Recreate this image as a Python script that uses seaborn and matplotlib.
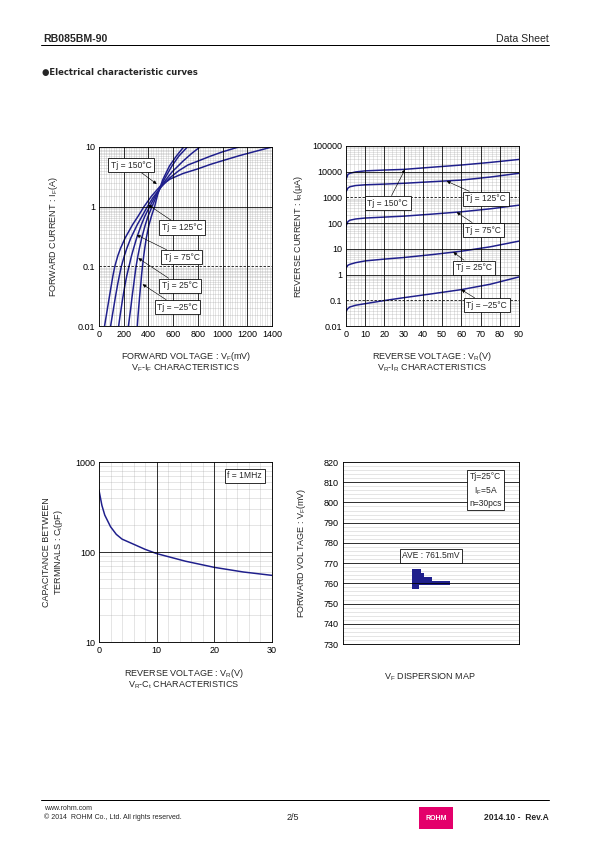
import numpy as np
import pandas as pd
import seaborn as sns
import matplotlib
matplotlib.use('Agg')
import matplotlib.pyplot as plt
from matplotlib.ticker import FixedLocator, FixedFormatter, MultipleLocator, NullFormatter
from matplotlib.patches import Rectangle

# ---- VF-IF data (mV, A) ----
vfif_labels = ['Tj = 150°C', 'Tj = 125°C', 'Tj = 75°C', 'Tj = 25°C', 'Tj = –25°C']
vf_150 = [45, 59, 69, 83, 101, 113, 128, 152, 174, 212, 272, 318, 364, 425, 495, 575, 680, 800, 900, 1000, 1140, 1270, 1400]
if_150 = [0.01, 0.015, 0.02, 0.03, 0.05, 0.07, 0.1, 0.15, 0.2, 0.3, 0.5, 0.7, 1.0, 1.5, 2.2, 2.9, 3.6, 4.3, 5.1, 5.9, 7.2, 8.5, 10]
vf_125 = [94, 108, 118, 132, 151, 165, 181, 205, 225, 258, 310, 350, 391, 435, 500, 570, 645, 720, 800, 900, 1000, 1130]
if_125 = [0.01, 0.015, 0.02, 0.03, 0.05, 0.07, 0.1, 0.15, 0.2, 0.3, 0.5, 0.7, 1.0, 1.4, 2.1, 3.0, 4.0, 5.0, 5.8, 7.0, 8.3, 10]
vf_75 = [159, 171, 180, 193, 211, 225, 243, 263, 280, 305, 343, 372, 410, 455, 515, 590, 680, 750, 817]
if_75 = [0.01, 0.015, 0.02, 0.03, 0.05, 0.07, 0.1, 0.15, 0.2, 0.3, 0.5, 0.7, 1.0, 1.5, 2.4, 3.8, 5.8, 7.8, 10]
vf_25 = [238, 249, 257, 267, 281, 290, 300, 315, 327, 346, 375, 398, 429, 470, 525, 590, 645, 715]
if_25 = [0.01, 0.015, 0.02, 0.03, 0.05, 0.07, 0.1, 0.15, 0.2, 0.3, 0.5, 0.7, 1.0, 1.6, 2.8, 4.8, 7.0, 10]
vf_m25 = [310, 316, 321, 328, 338, 344, 352, 362, 370, 383, 405, 425, 450, 475, 515, 570, 625, 685]
if_m25 = [0.01, 0.015, 0.02, 0.03, 0.05, 0.07, 0.1, 0.15, 0.2, 0.3, 0.5, 0.7, 1.0, 1.6, 2.8, 4.8, 7.0, 10]
vfif_tips = [(467, 2.4), (399, 1.07), (305, 0.336), (318, 0.137), (353, 0.05)]

# ---- VR-IR data (V, uA) ----
vr_pts = [0, 1, 2, 5, 10, 20, 30, 45, 60, 75, 90]
ir_150 = [5000, 7800, 8700, 9800, 10800, 11600, 12300, 15000, 18200, 23000, 30000]
ir_125 = [1660, 2300, 2600, 2900, 3100, 3300, 3540, 4100, 4730, 6200, 8700]
ir_75 = [76, 115, 130, 145, 158, 172, 187, 225, 276, 360, 500]
ir_25 = [1.8, 2.3, 2.5, 2.9, 3.4, 4.0, 4.6, 6.0, 8.1, 12, 20]
ir_m25 = [0.037, 0.048, 0.055, 0.064, 0.074, 0.098, 0.126, 0.18, 0.26, 0.42, 0.81]
vrir_tips = [(30.7, 12300), (52.4, 4300), (57.6, 265), (55.8, 7.5), (60, 0.26)]

# ---- VR-Ct data (V, pF) ----
vr_ct = [0, 0.5, 1, 2, 3, 4, 6, 8, 10, 15, 20, 25, 30]
ct = [484, 330, 257, 191, 157, 139, 122, 107, 96, 79, 67.5, 60, 55]

# ---- VF dispersion (mV) ----
disp_vf = [766, 764, 762, 760, 758]
disp_count = [3, 4, 7, 14, 2]

navy = '#1f1f8c'

sns.set_theme(style='white')
plt.rcParams['font.family'] = ['Liberation Sans', 'DejaVu Sans']
plt.rcParams['mathtext.fontset'] = 'custom'
plt.rcParams['mathtext.rm'] = 'Liberation Sans'

W, H = 595, 842
fig = plt.figure(figsize=(W / 72, H / 72), dpi=72)


def make_ax(l, t, r, b):
    return fig.add_axes([l / W, 1 - b / H, (r - l) / W, (b - t) / H])


def style_ax(ax):
    for s in ax.spines.values():
        s.set_color('black')
        s.set_linewidth(0.9)
    ax.tick_params(which='both', length=0, labelsize=9, pad=4, colors='black')


def minor_grid(ax):
    ax.grid(which='minor', color='#9a9a9a', lw=0.5, ls=(0, (1, 1)))
    ax.grid(which='major', visible=False)


def box():
    return dict(boxstyle='square,pad=0.3', fc='white', ec='black', lw=0.8)


def annot(ax, text, tip, pos):
    ax.annotate(text, xy=tip, xycoords='data', xytext=pos, textcoords='axes fraction',
                ha='center', va='center', fontsize=8.5, bbox=box(),
                arrowprops=dict(arrowstyle='-|>', color='black', lw=0.6,
                                mutation_scale=7, shrinkA=0, shrinkB=0))


def ftext(x, y, s, **kw):
    fig.text(x / W, 1 - y / H, s, **kw)


# ============ VF-IF ============
ax1 = make_ax(99, 147, 272, 326)
for xs, ys in zip([vf_150, vf_125, vf_75, vf_25, vf_m25], [if_150, if_125, if_75, if_25, if_m25]):
    sns.lineplot(x=xs, y=ys, ax=ax1, color=navy, lw=1.5, estimator=None, sort=False)
ax1.set_yscale('log')
ax1.set_xlim(0, 1400)
ax1.set_ylim(0.01, 10)
ax1.xaxis.set_major_locator(MultipleLocator(200))
ax1.xaxis.set_minor_locator(MultipleLocator(20))
ax1.yaxis.set_major_locator(FixedLocator([0.01, 0.1, 1, 10]))
ax1.yaxis.set_major_formatter(FixedFormatter(['0.01', '0.1', '1', '10']))
ax1.yaxis.set_minor_locator(FixedLocator([m * d for d in [0.01, 0.1, 1] for m in np.arange(1.5, 10, 0.5)]))
ax1.yaxis.set_minor_formatter(NullFormatter())
minor_grid(ax1)
for v in range(200, 1400, 200):
    ax1.axvline(v, color='black', lw=0.8)
ax1.axhline(1, color='black', lw=0.8)
ax1.axhline(0.1, color='black', lw=0.8, ls=(0, (3, 2)))
style_ax(ax1)
ax1.set_ylabel('FORWARD CURRENT : I$_\\mathregular{F}$(A)', fontsize=9)
ax1.yaxis.set_label_coords(-0.225, 0.5)
label_pos1 = [(0.187, 0.898), (0.480, 0.550), (0.478, 0.384), (0.468, 0.225), (0.454, 0.105)]
for t, tip, p in zip(vfif_labels, vfif_tips, label_pos1):
    annot(ax1, t, tip, p)
ftext(186, 356, 'FORWARD VOLTAGE : V$_\\mathregular{F}$(mV)', ha='center', va='center', fontsize=9)
ftext(186, 368, 'V$_\\mathregular{F}$-I$_\\mathregular{F}$ CHARACTERISTICS', ha='center', va='center', fontsize=9)

# ============ VR-IR ============
ax2 = make_ax(346, 146, 519, 326)
for ys in [ir_150, ir_125, ir_75, ir_25, ir_m25]:
    sns.lineplot(x=vr_pts, y=ys, ax=ax2, color=navy, lw=1.5, estimator=None, sort=False)
ax2.set_yscale('log')
ax2.set_xlim(0, 90)
ax2.set_ylim(0.01, 100000)
ax2.xaxis.set_major_locator(MultipleLocator(10))
ax2.xaxis.set_minor_locator(MultipleLocator(2))
dec2 = [0.01, 0.1, 1, 10, 100, 1000, 10000, 100000]
ax2.yaxis.set_major_locator(FixedLocator(dec2))
ax2.yaxis.set_major_formatter(FixedFormatter(['0.01', '0.1', '1', '10', '100', '1000', '10000', '100000']))
ax2.yaxis.set_minor_locator(FixedLocator([m * d for d in dec2[:-1] for m in range(2, 10)]))
ax2.yaxis.set_minor_formatter(NullFormatter())
minor_grid(ax2)
for v in range(10, 90, 10):
    ax2.axvline(v, color='black', lw=0.8)
for d, ls in zip([0.1, 1, 10, 100, 1000, 10000], [(0, (3, 2)), '-', '-', '-', (0, (3, 2)), '-']):
    ax2.axhline(d, color='black', lw=0.8, ls=ls)
style_ax(ax2)
ax2.set_ylabel('REVERSE CURRENT : I$_\\mathregular{R}$(μA)', fontsize=9)
ax2.yaxis.set_label_coords(-0.237, 0.5)
label_pos2 = [(0.241, 0.683), (0.808, 0.707), (0.794, 0.533), (0.740, 0.324), (0.813, 0.115)]
for t, tip, p in zip(vfif_labels, vrir_tips, label_pos2):
    annot(ax2, t, tip, p)
ftext(432, 356, 'REVERSE VOLTAGE : V$_\\mathregular{R}$(V)', ha='center', va='center', fontsize=9)
ftext(432, 368, 'V$_\\mathregular{R}$-I$_\\mathregular{R}$ CHARACTERISTICS', ha='center', va='center', fontsize=9)

# ============ VR-Ct ============
ax3 = make_ax(99, 462, 272, 642)
sns.lineplot(x=vr_ct, y=ct, ax=ax3, color=navy, lw=1.5, estimator=None, sort=False)
ax3.set_yscale('log')
ax3.set_xlim(0, 30)
ax3.set_ylim(10, 1000)
ax3.xaxis.set_major_locator(MultipleLocator(10))
ax3.xaxis.set_minor_locator(MultipleLocator(2))
ax3.yaxis.set_major_locator(FixedLocator([10, 100, 1000]))
ax3.yaxis.set_major_formatter(FixedFormatter(['10', '100', '1000']))
ax3.yaxis.set_minor_locator(FixedLocator([m * d for d in [10, 100] for m in range(2, 10)]))
ax3.yaxis.set_minor_formatter(NullFormatter())
minor_grid(ax3)
for v in [10, 20]:
    ax3.axvline(v, color='black', lw=0.8)
ax3.axhline(100, color='black', lw=0.8)
style_ax(ax3)
ax3.set_ylabel('CAPACITANCE BETWEEN\nTERMINALS : C$_\\mathregular{t}$(pF)', fontsize=9, linespacing=1.1)
ax3.yaxis.set_label_coords(-0.197, 0.5)
ax3.text(0.842, 0.923, 'f = 1MHz', transform=ax3.transAxes, ha='center', va='center',
         fontsize=8.5, bbox=box())
ftext(184, 673, 'REVERSE VOLTAGE : V$_\\mathregular{R}$(V)', ha='center', va='center', fontsize=9)
ftext(184, 685, 'V$_\\mathregular{R}$-C$_\\mathregular{t}$ CHARACTERISTICS', ha='center', va='center', fontsize=9)

# ============ VF dispersion ============
ax4 = make_ax(343, 462, 519, 644)
disp = pd.DataFrame({'vf': np.repeat(disp_vf, disp_count)})
disp['n'] = disp.groupby('vf').cumcount()
sns.scatterplot(data=disp, x='n', y='vf', ax=ax4, color=navy, marker='s', s=9.5,
                linewidth=0, legend=False)
ax4.set_xlim(-27.3, 40.4)
ax4.set_ylim(730, 820)
ax4.set_xticks([])
ax4.yaxis.set_major_locator(MultipleLocator(10))
ax4.yaxis.set_minor_locator(MultipleLocator(2))
ax4.grid(which='minor', axis='y', color='#9a9a9a', lw=0.5, ls=(0, (1, 1)))
ax4.grid(which='major', visible=False)
for v in range(740, 820, 10):
    ax4.axhline(v, color='black', lw=0.8)
style_ax(ax4)
ax4.set_xlabel('')
ax4.set_ylabel('FORWARD VOLTAGE : V$_\\mathregular{F}$(mV)', fontsize=9)
ax4.yaxis.set_label_coords(-0.199, 0.5)
ax4.text(0.81, 0.846, 'Tj=25°C\nI$_\\mathregular{F}$=5A\nn=30pcs', transform=ax4.transAxes,
         ha='center', va='center', fontsize=8.5, linespacing=1.3, bbox=box())
ax4.text(0.499, 0.485, 'AVE : 761.5mV', transform=ax4.transAxes, ha='center', va='center',
         fontsize=8.5, bbox=box())
ftext(430, 677, 'V$_\\mathregular{F}$ DISPERSION MAP', ha='center', va='center', fontsize=9)

# ============ page header / footer ============
ftext(43, 39, 'RB085BM-90', ha='left', va='center', fontsize=10.5, fontweight='bold')
ftext(549, 39, 'Data Sheet', ha='right', va='center', fontsize=10.5)
fig.add_artist(plt.Line2D([41 / W, 549 / W], [1 - 45 / H, 1 - 45 / H], color='black', lw=1))
ftext(42, 72, '●Electrical characteristic curves', ha='left', va='center', fontsize=8.5,
      fontweight='bold', family=['DejaVu Sans'])

fig.add_artist(plt.Line2D([41 / W, 549 / W], [1 - 800 / H, 1 - 800 / H], color='black', lw=1))
ftext(44, 808, 'www.rohm.com', ha='left', va='center', fontsize=7)
ftext(44, 817.5, '© 2014  ROHM Co., Ltd. All rights reserved.', ha='left', va='center', fontsize=7)
ftext(293, 818, '2/5', ha='center', va='center', fontsize=9)
fig.add_artist(Rectangle((419 / W, 1 - 829 / H), 34 / W, 22 / H, transform=fig.transFigure,
                         fc='#e4006b', ec='none'))
ftext(436, 818, 'ROHM', ha='center', va='center', fontsize=7, fontweight='bold', color='white')
ftext(549, 818, '2014.10 -  Rev.A', ha='right', va='center', fontsize=8.5, fontweight='bold')

fig.savefig('out.png', dpi=72)
